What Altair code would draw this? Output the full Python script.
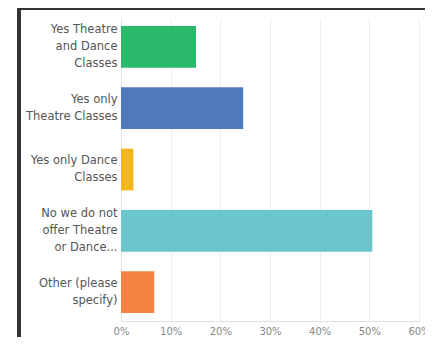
import altair as alt
import pandas as pd

categories = [
    "Yes Theatre|and Dance|Classes",
    "Yes only|Theatre Classes",
    "Yes only Dance|Classes",
    "No we do not|offer Theatre|or Dance...",
    "Other (please|specify)",
]
values = [0.151, 0.246, 0.025, 0.506, 0.067]
colors = ["#2ab86a", "#4f79bd", "#f2b71c", "#6ac5cc", "#f58444"]

df = pd.DataFrame({"cat": categories, "val": values, "color": colors})

W, H = 298, 303

bars = alt.Chart(df).mark_bar().encode(
    y=alt.Y(
        "cat:N",
        sort=categories,
        title=None,
        scale=alt.Scale(paddingInner=0.32, paddingOuter=0.13),
        axis=alt.Axis(
            labelExpr="split(datum.label, '|')",
            labelOffset=alt.ExprRef(
                expr="-(length(split(datum.label, '|')) - 1) * 8.5"
            ),
            labelFontSize=11.5,
            labelLineHeight=17,
            labelColor="#555555",
            labelFont="DejaVu Sans",
            labelPadding=4,
            labelLimit=120,
            ticks=False,
            domain=True,
            domainColor="#e8e8e8",
            grid=False,
        ),
    ),
    x=alt.X(
        "val:Q",
        title=None,
        scale=alt.Scale(domain=[0, 0.6], nice=False),
        axis=alt.Axis(
            format=".0%",
            values=[0, 0.1, 0.2, 0.3, 0.4, 0.5, 0.6],
            labelFontSize=10,
            labelColor="#888888",
            labelFont="DejaVu Sans",
            labelPadding=5,
            ticks=False,
            domainColor="#e0e0e0",
            gridColor="#eeeeee",
            labelFlush=False,
        ),
    ),
    color=alt.Color("color:N", scale=None),
)

frame = pd.DataFrame({"a": [0]})
border = alt.Chart(frame).mark_rect(
    fill="white", fillOpacity=0, stroke="#333333", strokeWidth=2
).encode(
    x=alt.value(-103),
    x2=alt.value(305),
    y=alt.value(-9),
    y2=alt.value(345),
)
left_edge = alt.Chart(frame).mark_rule(
    color="#333333", strokeWidth=2
).encode(
    x=alt.value(-101),
    y=alt.value(-9),
    y2=alt.value(345),
)

chart = alt.layer(bars, border, left_edge).properties(
    width=W,
    height=H,
    autosize=alt.AutoSizeParams(type="none"),
    padding={"left": 113, "top": 10, "right": 6, "bottom": 16},
    background="white",
).configure_view(stroke=None)

chart.save("out.html", embed_options={"renderer": "svg", "actions": False})
